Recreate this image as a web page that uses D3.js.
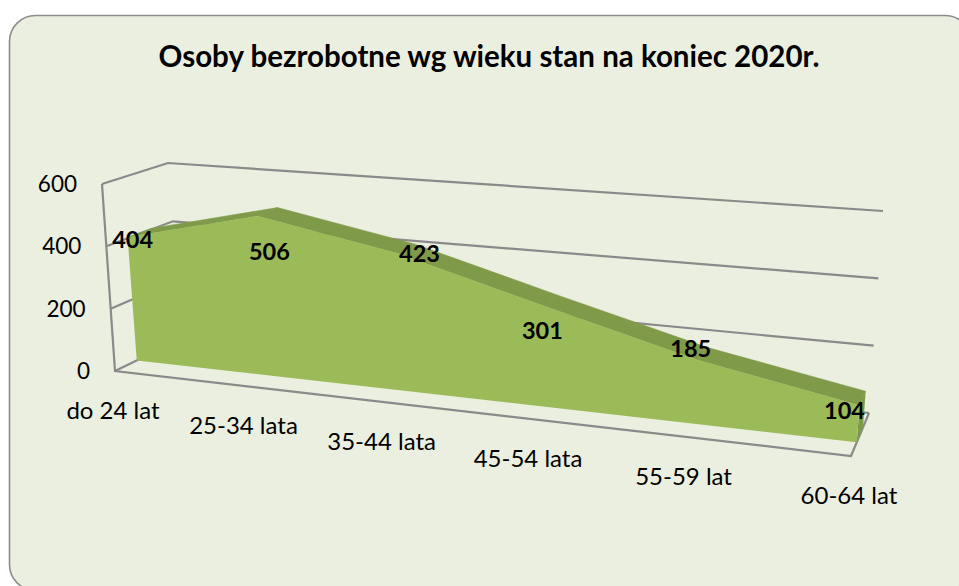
<!DOCTYPE html>
<html><head><meta charset="utf-8">
<script src="https://cdn.jsdelivr.net/npm/d3@7"></script>
<style>html,body{margin:0;padding:0;background:#fff}svg{display:block}text{font-family:Lato,"Open Sans",sans-serif;fill:#000}</style>
</head><body><svg id="c" width="959" height="586"></svg>
<script>
const categories = ["do 24 lat","25-34 lata","35-44 lata","45-54 lata","55-59 lat","60-64 lat"];
const values = [404,506,423,301,185,104];
const yTicks = [0,200,400,600];
const titleText = "Osoby bezrobotne wg wieku stan na koniec 2020r.";

// 3D box layout: [x,y] of the projected corners (Front/Back, Bottom/Top, Left/Right)
const box = {FBL:[115,371],FBR:[851,456],FTL:[102,184],FTR:[868,237],
             BBL:[183,338],BBR:[869,413],BTL:[168,163],BTR:[883,211]};
const persp = 1.16, dFront = .32, dBack = .67;
const labelOffset = [[5,2],[12,36],[22,0],[-2,24],[-7,-12],[-15,5]];

const xS = d3.scalePoint().domain(categories).range([0,1]);
const yS = d3.scaleLinear().domain([0,600]).range([0,1]);
const warp = t => t/(persp+(1-persp)*t);
const lerp = (a,b,t)=>[a[0]+(b[0]-a[0])*t,a[1]+(b[1]-a[1])*t];
function proj(t,v,d){
  const u=warp(t);
  const fb=lerp(box.FBL,box.FBR,u), ft=lerp(box.FTL,box.FTR,u);
  const bb=lerp(box.BBL,box.BBR,u), bt=lerp(box.BTL,box.BTR,u);
  return lerp(lerp(fb,ft,v),lerp(bb,bt,v),d);
}
const svg=d3.select("#c");
svg.append("rect").attr("x",9.5).attr("y",15.5).attr("width",961.5).attr("height",575).attr("rx",26)
  .attr("fill","#ebefdf").attr("stroke","#8c8c8c").attr("stroke-width",1.6);
svg.append("text").attr("x",489).attr("y",67).attr("text-anchor","middle")
  .attr("font-size",29.5).attr("font-weight",700).text(titleText);

const line=d3.line();
const grid=svg.append("g").attr("fill","none").attr("stroke","#8a8a8a").attr("stroke-width",2.2);
yTicks.forEach(tk=>{
  const v=yS(tk);
  grid.append("path").attr("d",line([proj(0,v,0),proj(0,v,1),proj(1,v,1)]));
});
grid.append("path").attr("d",line([proj(0,yS(600),0),proj(0,yS(0),0),proj(1,yS(0),0),proj(1,yS(0),1)]));

const pts=categories.map((c,i)=>({c,i,t:xS(c),v:yS(values[i])}));
const ser=svg.append("g");
d3.pairs(pts).forEach(([a,b])=>{
  ser.append("path").attr("fill","#7f9a48").attr("stroke","#7f9a48").attr("stroke-width",.5)
    .attr("d",line([proj(a.t,a.v,dFront),proj(b.t,b.v,dFront),proj(b.t,b.v,dBack),proj(a.t,a.v,dBack)])+"Z");
});
const last=pts[pts.length-1];
ser.append("path").attr("fill","#7c9a47")
  .attr("d",line([proj(1,0,dFront),proj(1,last.v,dFront),proj(1,last.v,dBack),proj(1,0,dBack)])+"Z");
ser.append("path").attr("fill","#9bbb59")
  .attr("d",line([proj(0,0,dFront),...pts.map(p=>proj(p.t,p.v,dFront)),proj(1,0,dFront)])+"Z");

yTicks.forEach(tk=>{
  const p=proj(0,yS(tk),0);
  svg.append("text").attr("x",p[0]-25).attr("y",p[1]+8).attr("text-anchor","end").attr("font-size",22.5).text(tk);
});
categories.forEach(c=>{
  const p=proj(xS(c),0,0);
  svg.append("text").attr("x",p[0]-2).attr("y",p[1]+48).attr("text-anchor","middle").attr("font-size",24).text(c);
});
pts.forEach((p,i)=>{
  const q=proj(p.t,p.v,dFront);
  svg.append("text").attr("x",q[0]+labelOffset[i][0]).attr("y",q[1]+labelOffset[i][1]+8.5)
    .attr("text-anchor","middle").attr("font-size",23.5).attr("font-weight",700).text(values[i]);
});
</script></body></html>
